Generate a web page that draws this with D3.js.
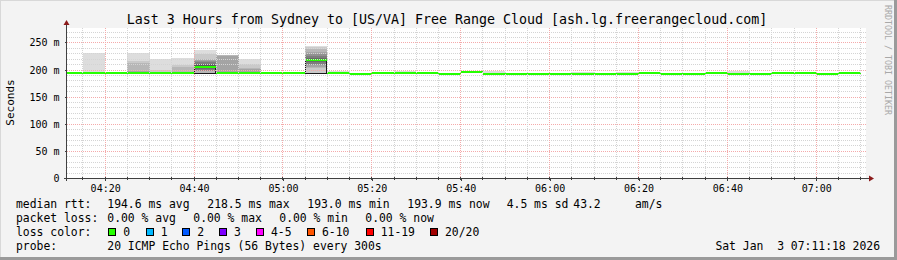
<!DOCTYPE html>
<html><head><meta charset="utf-8">
<script src="https://cdn.jsdelivr.net/npm/d3@7"></script>
<style>
html,body{margin:0;padding:0;background:#f3f3f3;}
svg{display:block;}
text{font-family:"DejaVu Sans Mono",monospace;fill:#000;}
</style>
</head><body>
<svg id="c" width="897" height="260"></svg>
<script>
// ---------- data ----------
const binEnds = ["04:15","04:20","04:25","04:30","04:35","04:40","04:45","04:50","04:55","05:00",
  "05:05","05:10","05:15","05:20","05:25","05:30","05:35","05:40","05:45","05:50",
  "05:55","06:00","06:05","06:10","06:15","06:20","06:25","06:30","06:35","06:40",
  "06:45","06:50","06:55","07:00","07:05","07:10"];
const medianMs = [194.6,194.6,194.6,194.6,194.6,194.6,205.2,194.6,194.6,194.6,
  194.6,218.1,195.0,193.0,194.4,194.4,194.4,193.0,196.3,193.2,
  193.2,193.2,193.2,193.2,193.2,193.2,194.4,193.2,193.2,194.4,
  193.2,193.2,194.4,194.4,193.2,193.9];
const smokeBins = ["04:20","04:30","04:35","04:40","04:45","04:50","04:55","05:10","05:15","05:30","05:45","05:50","06:10","06:20","06:45"];
const smokePings = [
  [194.0,194.2,194.3,194.4,194.5,194.5,194.6,194.6,194.6,194.6,194.7,194.7,194.8,194.9,195.0,195.2,195.5,196.0,197.0,232.0],
  [194.0,194.2,194.3,194.4,194.5,194.5,194.6,194.6,194.6,194.6,194.7,194.8,195.0,195.5,196.0,197.0,199.0,213.0,216.0,232.0],
  [194.0,194.2,194.3,194.4,194.5,194.5,194.6,194.6,194.6,194.6,194.7,194.7,194.8,194.9,195.0,195.2,195.5,196.0,200.0,219.5],
  [194.0,194.2,194.3,194.4,194.5,194.5,194.6,194.6,194.6,194.6,194.7,194.7,194.8,195.0,195.5,196.0,197.0,206.0,209.0,222.0],
  [193.5,194.2,195.0,197.8,198.6,199.5,201.0,203.0,204.0,205.0,205.4,207.0,209.0,211.0,214.0,216.0,219.0,221.0,229.0,236.5],
  [194.0,194.2,194.4,194.5,194.6,194.6,194.6,194.6,194.6,194.6,194.7,194.8,195.0,195.5,196.0,197.0,226.0,227.0,227.5,228.6],
  [194.0,194.2,194.3,194.4,194.5,194.5,194.6,194.6,194.6,194.6,194.7,194.7,194.8,195.0,195.5,196.0,202.0,203.0,211.0,219.4],
  [194.0,195.0,203.0,206.0,209.0,212.0,214.0,216.0,217.5,218.0,218.2,220.0,221.0,223.0,225.0,229.0,234.0,238.0,243.0,245.0],
  [194.0,194.2,194.4,194.6,194.7,194.8,194.9,194.9,195.0,195.0,195.0,195.1,195.2,195.3,195.4,195.5,195.6,195.8,196.0,198.5],
  [193.8,194.0,194.1,194.2,194.3,194.3,194.4,194.4,194.4,194.4,194.4,194.5,194.5,194.6,194.7,194.8,195.0,195.3,195.8,197.5],
  [195.5,195.7,195.8,195.9,196.0,196.1,196.2,196.2,196.3,196.3,196.3,196.4,196.5,196.6,196.7,196.8,197.0,197.3,197.8,199.0],
  [192.6,192.8,192.9,193.0,193.0,193.1,193.1,193.2,193.2,193.2,193.2,193.3,193.3,193.4,193.5,193.6,193.8,194.2,195.0,197.5],
  [192.6,192.8,192.9,193.0,193.0,193.1,193.1,193.2,193.2,193.2,193.2,193.3,193.3,193.4,193.5,193.6,193.8,194.0,194.4,195.8],
  [192.7,192.8,192.9,193.0,193.1,193.1,193.2,193.2,193.2,193.2,193.2,193.3,193.3,193.4,193.4,193.5,193.7,193.9,194.3,195.6],
  [192.6,192.8,192.9,193.0,193.0,193.1,193.1,193.2,193.2,193.2,193.2,193.3,193.3,193.4,193.5,193.6,193.8,194.3,195.2,197.5]
];
const frameBins = ["04:45","05:10"];
const frameLo = [193.6, 194.0];
const frameHi = [205.2, 220.6];
const xTickLabels = ["04:20","04:40","05:00","05:20","05:40","06:00","06:20","06:40","07:00"];
const yTicks = [0,50,100,150,200,250];
const lossLabels = ["0","1","2","3","4-5","6-10","11-19","20/20"];
const lossColors = ["#26ff00","#00b8ff","#0059ff","#7e00ff","#ff00ff","#ff5500","#ff0000","#a10000"];
const titleText = "Last 3 Hours from Sydney to [US/VA] Free Range Cloud [ash.lg.freerangecloud.com]";
const rttRow = [["median rtt:",16],["194.6 ms avg",107.3],["218.5 ms max",207.3],["193.0 ms min",307.3],["193.9 ms now",407.3],["4.5 ms sd",506.7],["43.2",573.3],["am/s",635]];
const lossRow = [["packet loss:",16],["0.00 % avg",107.3],["0.00 % max",193.3],["0.00 % min",279.3],["0.00 % now",365.3]];
const lossColorX = [108.3,145.7,182.3,219,256,307,365.7,430];
const probeText = "20 ICMP Echo Pings (56 Bytes) every 300s";
const dateText = "Sat Jan  3 07:11:18 2026";

// ---------- helpers ----------
const day = (hm, s=0) => { const [h,m] = hm.split(":").map(Number); return new Date(2026,0,3,h,m,s); };
const t0 = new Date(2026,0,3,4,11,18), t1 = new Date(2026,0,3,7,11,18);
const x = d3.scaleTime().domain([t0,t1]).range([66.5,866.5]);
const y = d3.scaleLinear().domain([0,250]).range([178.5,42.9]);
const PL = 67, PR = 866, PT = 28, PB = 178;

const svg = d3.select("#c");
// frame
svg.append("rect").attr("x",0).attr("y",0).attr("width",897).attr("height",260).attr("fill","#f3f3f3");
svg.append("rect").attr("x",0).attr("y",0).attr("width",897).attr("height",1).attr("fill","#d8d8d8");
svg.append("rect").attr("x",0).attr("y",0).attr("width",1).attr("height",260).attr("fill","#d8d8d8");
svg.append("rect").attr("x",0).attr("y",257).attr("width",897).attr("height",3).attr("fill","#9a9a9a");
svg.append("rect").attr("x",894).attr("y",0).attr("width",3).attr("height",260).attr("fill","#9a9a9a");

// plot background
svg.append("rect").attr("x",PL).attr("y",PT).attr("width",PR-PL).attr("height",PB-PT).attr("fill","#ffffff");

svg.append("defs").append("clipPath").attr("id","pc").append("rect")
  .attr("x",PL).attr("y",PT).attr("width",PR-PL).attr("height",PB-PT);
const plot = svg.append("g").attr("clip-path","url(#pc)");

// smoke
const shade = i => { const c = Math.round(190/10*(10-(i+1))+50); return d3.rgb(c,c,c).formatHex(); };
smokeBins.forEach((b,k) => {
  const p = smokePings[k];
  const e = day(b), s = new Date(+e - 300000);
  for (let i=0;i<10;i++) {
    const lo = p[i], hi = p[19-i];
    plot.append("rect")
      .attr("x", Math.round(x(s))).attr("width", Math.round(x(e))-Math.round(x(s)))
      .attr("y", Math.round(y(hi))).attr("height", Math.max(0, Math.round(y(lo))-Math.round(y(hi))))
      .attr("fill", shade(i)).attr("shape-rendering","crispEdges");
  }
});

// grid
const grid = svg.append("g").attr("shape-rendering","crispEdges");
for (let v=10; v<=270; v+=10) {
  const yy = Math.floor(y(v))+0.5;
  if (yy < PT) continue;
  const major = v % 50 === 0;
  grid.append("line").attr("x1",PL).attr("x2",PR).attr("y1",yy).attr("y2",yy)
    .attr("stroke", major ? "#f4aaaa" : "#d4d4d4").attr("stroke-dasharray","1,1");
}
const minorTimes = d3.timeMinute.every(5).range(t0, t1);
minorTimes.forEach(t => {
  const xx = Math.floor(x(t))+0.5;
  const major = t.getMinutes() % 20 === 0;
  grid.append("line").attr("x1",xx).attr("x2",xx).attr("y1",PT).attr("y2",PB)
    .attr("stroke", major ? "#f4aaaa" : "#d4d4d4").attr("stroke-dasharray","1,1");
});

// black frames
frameBins.forEach((b,k) => {
  const e = day(b), s = new Date(+e - 300000);
  plot.append("rect")
    .attr("x", Math.round(x(s))+0.5).attr("width", Math.round(x(e))-Math.round(x(s))-1)
    .attr("y", Math.round(y(frameHi[k]))+0.5).attr("height", Math.round(y(frameLo[k]))-Math.round(y(frameHi[k])))
    .attr("fill","none").attr("stroke","#1a1a1a").attr("shape-rendering","crispEdges");
});

// median
binEnds.forEach((b,k) => {
  const e = day(b), s = new Date(+e - 300000);
  plot.append("rect")
    .attr("x", Math.round(x(s))).attr("width", Math.round(x(e))-Math.round(x(s)))
    .attr("y", Math.round(y(medianMs[k])-1)).attr("height", 2)
    .attr("fill", lossColors[0]).attr("shape-rendering","crispEdges");
});

// axes lines
const ax = svg.append("g").attr("shape-rendering","crispEdges");
ax.append("line").attr("x1",64).attr("x2",869).attr("y1",178.5).attr("y2",178.5).attr("stroke","#404040");
ax.append("line").attr("x1",66.5).attr("x2",66.5).attr("y1",181).attr("y2",24).attr("stroke","#404040");
svg.append("path").attr("d","M869,175.5 L874,178.5 L869,181.5 Z").attr("fill","#8b1a1a");
svg.append("path").attr("d","M63.5,25 L66.5,20 L69.5,25 Z").attr("fill","#8b1a1a");

// x axis ticks via d3 axis
const xAxis = d3.axisBottom(x)
  .tickValues(xTickLabels.map(s => day(s)))
  .tickFormat(d3.timeFormat("%H:%M"))
  .tickSize(2).tickPadding(4);
const gx = svg.append("g").attr("transform","translate(0,178.5)").call(xAxis);
gx.select(".domain").remove();
gx.selectAll("line").attr("stroke","#404040").attr("shape-rendering","crispEdges");
gx.selectAll("text").attr("font-size","10px").attr("font-family","DejaVu Sans Mono").attr("fill","#000").attr("dy","0.75em");
// minor tick marks
minorTimes.forEach(t => {
  const xx = Math.floor(x(t))+0.5;
  ax.append("line").attr("x1",xx).attr("x2",xx).attr("y1",177).attr("y2",180).attr("stroke","#404040");
});

// y axis
const yAxis = d3.axisLeft(y).tickValues(yTicks)
  .tickFormat(v => v === 0 ? "0" : v + " m").tickSize(2).tickPadding(5);
const gy = svg.append("g").attr("transform","translate(66.5,0)").call(yAxis);
gy.select(".domain").remove();
gy.selectAll(".tick").attr("transform", d => `translate(0,${Math.floor(y(d))+0.5})`);
gy.selectAll("line").attr("stroke","#404040").attr("shape-rendering","crispEdges");
gy.selectAll("text").attr("font-size","10px").attr("font-family","DejaVu Sans Mono").attr("fill","#000");

// title
svg.append("text").attr("x",447).attr("y",23.5).attr("text-anchor","middle")
  .attr("font-size","13.3px").text(titleText);

// y label
svg.append("text").attr("transform","translate(14,102.5) rotate(-90)").attr("text-anchor","middle")
  .attr("font-size","11px").text("Seconds");

// watermark
svg.append("text").attr("transform","translate(884.5,5) rotate(90)").attr("text-anchor","start")
  .attr("font-size","8.3px").attr("fill","#a8a8a8").style("fill","#a8a8a8").text("RRDTOOL / TOBI OETIKER");

// legend
const lg = svg.append("g").attr("font-size","11.4px").attr("xml:space","preserve");
rttRow.forEach(([t,xx]) => lg.append("text").attr("x",xx).attr("y",208.3).text(t));
lossRow.forEach(([t,xx]) => lg.append("text").attr("x",xx).attr("y",222.3).text(t));
lg.append("text").attr("x",16).attr("y",236.3).text("loss color:");
lossLabels.forEach((l,i) => {
  lg.append("rect").attr("x",lossColorX[i]+0.5).attr("y",228.5).attr("width",7).attr("height",7)
    .attr("fill",lossColors[i]).attr("stroke","#000").attr("shape-rendering","crispEdges");
  lg.append("text").attr("x",lossColorX[i]+15).attr("y",236.3).text(l);
});
lg.append("text").attr("x",16).attr("y",250.3).text("probe:");
lg.append("text").attr("x",107.3).attr("y",250.3).text(probeText);
lg.append("text").attr("x",880).attr("y",250.3).attr("text-anchor","end").style("white-space","pre").text(dateText);
</script>
</body></html>
